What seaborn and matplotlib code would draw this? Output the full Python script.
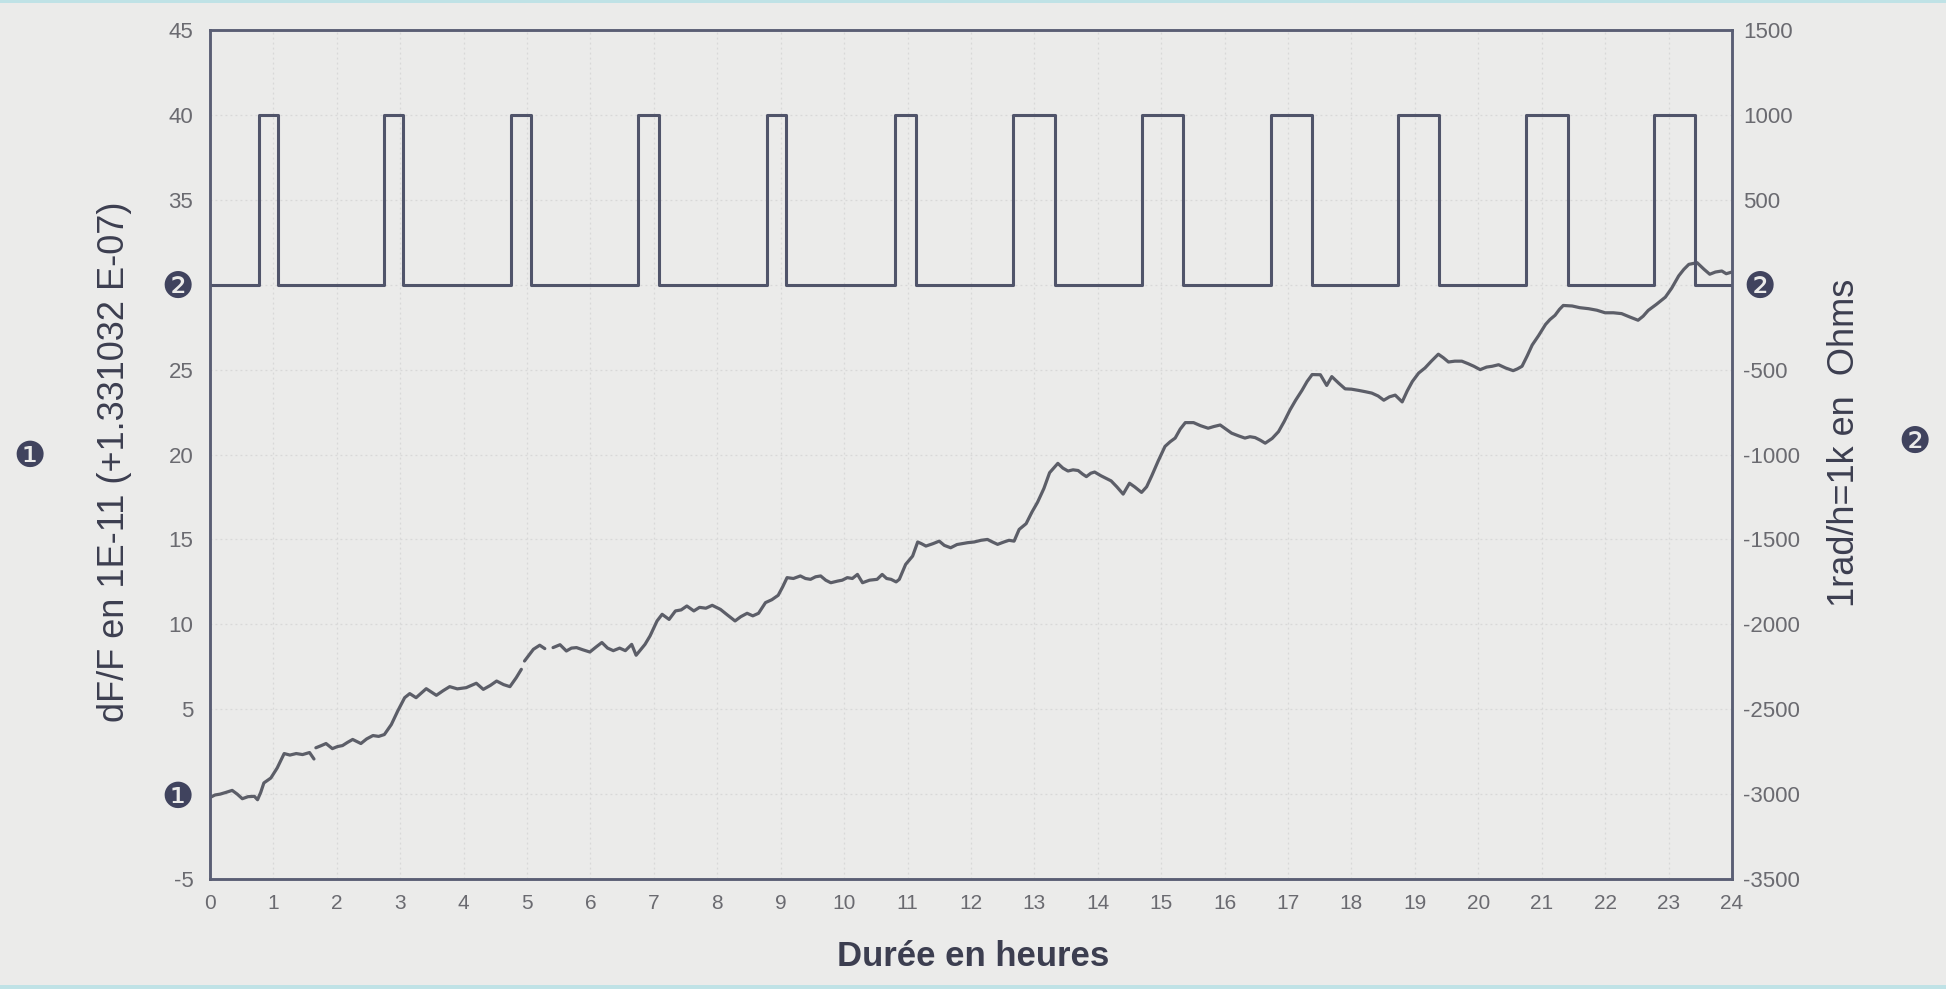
import numpy as np
import pandas as pd
import matplotlib
matplotlib.use("Agg")
import matplotlib.pyplot as plt
from matplotlib.patches import Rectangle
import seaborn as sns

# --- dF/F trace (left axis, units of 1E-11) ---
dff_hours = [
    0.00, 0.08, 0.16, 0.25, 0.35, 0.43, 0.51, 0.60, 0.70, 0.75, 0.80, 0.85, 0.96,
    1.06, 1.17, 1.26, 1.36, 1.46, 1.57, 1.64,
    1.67, 1.75, 1.83, 1.93, 2.01, 2.09, 2.17, 2.25, 2.38, 2.47, 2.57, 2.66, 2.75,
    2.86, 2.96, 3.07, 3.15, 3.25, 3.41, 3.57, 3.68, 3.78, 3.90, 4.04, 4.20, 4.31,
    4.42, 4.52, 4.63, 4.73, 4.83, 4.91,
    4.96, 5.10, 5.20, 5.28,
    5.41, 5.52, 5.62, 5.70, 5.78, 5.88, 5.99, 6.10, 6.18, 6.27, 6.36, 6.46, 6.55,
    6.65, 6.72, 6.80, 6.86, 6.94, 7.05, 7.13, 7.24, 7.34, 7.43, 7.52, 7.63, 7.72,
    7.82, 7.92, 8.05, 8.16, 8.28, 8.37, 8.47, 8.56, 8.65, 8.76, 8.86, 8.96, 9.03,
    9.10, 9.20, 9.31, 9.39, 9.47, 9.55, 9.63, 9.71, 9.79, 9.90, 9.97, 10.05, 10.13,
    10.21, 10.29, 10.40, 10.52, 10.60, 10.67, 10.74, 10.82, 10.87, 10.97, 11.08,
    11.16, 11.22, 11.29, 11.40, 11.50, 11.58, 11.68, 11.78, 11.86, 11.95, 12.05,
    12.16, 12.26, 12.34, 12.42, 12.52, 12.60, 12.68, 12.76, 12.87, 12.96, 13.05,
    13.15, 13.24, 13.37, 13.45, 13.53, 13.61, 13.69, 13.76, 13.82, 13.89, 13.95,
    14.05, 14.13, 14.21, 14.30, 14.40, 14.50, 14.58, 14.69, 14.77, 14.85, 14.95,
    15.06, 15.14, 15.22, 15.30, 15.38, 15.51, 15.62, 15.74, 15.83, 15.93, 16.02,
    16.11, 16.22, 16.32, 16.40, 16.48, 16.56, 16.64, 16.75, 16.85, 16.94, 17.03,
    17.12, 17.22, 17.30, 17.38, 17.51, 17.61, 17.69, 17.80, 17.90, 18.00, 18.11,
    18.22, 18.32, 18.42, 18.51, 18.60, 18.69, 18.80, 18.88, 18.96, 19.06, 19.16,
    19.26, 19.37, 19.45, 19.53, 19.63, 19.74, 19.84, 19.93, 20.03, 20.13, 20.22,
    20.32, 20.43, 20.55, 20.62, 20.69, 20.77, 20.85, 20.95, 21.06, 21.13, 21.21,
    21.28, 21.34, 21.48, 21.60, 21.74, 21.87, 22.00, 22.13, 22.26, 22.39, 22.52,
    22.60, 22.68, 22.81, 22.95, 23.05, 23.16, 23.24, 23.32, 23.45, 23.56, 23.65,
    23.74, 23.84, 23.91, 24.00,
]
dff_values = [
    -0.20, -0.05, 0.00, 0.10, 0.22, 0.00, -0.27, -0.15, -0.13, -0.33, 0.10, 0.66, 0.95,
    1.54, 2.39, 2.30, 2.39, 2.33, 2.45, 2.07,
    2.73, 2.85, 2.98, 2.68, 2.80, 2.86, 3.05, 3.22, 2.98, 3.25, 3.45, 3.40, 3.51,
    4.10, 4.89, 5.68, 5.92, 5.68, 6.21, 5.82, 6.10, 6.33, 6.20, 6.27, 6.53, 6.17,
    6.40, 6.66, 6.45, 6.33, 6.86, 7.35,
    7.84, 8.53, 8.77, 8.57,
    8.63, 8.80, 8.43, 8.60, 8.63, 8.50, 8.37, 8.70, 8.93, 8.60, 8.45, 8.60, 8.45,
    8.82, 8.18, 8.55, 8.82, 9.32, 10.20, 10.59, 10.29, 10.79, 10.85, 11.08, 10.79, 11.00,
    10.95, 11.12, 10.88, 10.55, 10.20, 10.45, 10.65, 10.50, 10.65, 11.28, 11.45, 11.71, 12.20,
    12.75, 12.70, 12.85, 12.70, 12.65, 12.80, 12.85, 12.60, 12.45, 12.55, 12.60, 12.75, 12.70,
    12.94, 12.45, 12.60, 12.65, 12.94, 12.70, 12.65, 12.50, 12.65, 13.53, 14.02,
    14.85, 14.75, 14.61, 14.75, 14.90, 14.65, 14.51, 14.70, 14.75, 14.81, 14.85,
    14.95, 15.00, 14.85, 14.71, 14.85, 14.95, 14.90, 15.59, 15.93, 16.60, 17.19,
    18.00, 18.93, 19.48, 19.20, 19.03, 19.10, 19.06, 18.85, 18.70, 18.90, 18.97,
    18.75, 18.60, 18.45, 18.10, 17.67, 18.31, 18.10, 17.77, 18.10, 18.74, 19.60,
    20.48, 20.75, 20.97, 21.50, 21.88, 21.88, 21.70, 21.55, 21.65, 21.74, 21.50,
    21.26, 21.10, 20.97, 21.05, 21.00, 20.85, 20.67, 20.95, 21.35, 21.95, 22.62,
    23.20, 23.78, 24.30, 24.71, 24.70, 24.07, 24.59, 24.20, 23.87, 23.85, 23.78,
    23.70, 23.62, 23.45, 23.20, 23.40, 23.50, 23.10, 23.75, 24.30, 24.80, 25.10,
    25.50, 25.91, 25.70, 25.45, 25.50, 25.50, 25.35, 25.20, 25.00, 25.15, 25.20,
    25.29, 25.10, 24.94, 25.05, 25.20, 25.80, 26.45, 27.00, 27.66, 27.95, 28.20,
    28.55, 28.78, 28.75, 28.65, 28.59, 28.50, 28.35, 28.35, 28.30, 28.10, 27.91,
    28.15, 28.49, 28.85, 29.27, 29.80, 30.52, 30.90, 31.20, 31.30, 30.91, 30.62,
    30.75, 30.81, 30.65, 30.75,
]
# short dropouts in the recorded trace (hours)
dff_gaps = [1.655, 4.935, 5.345]

# --- reference resistance pulses (right axis, Ohms) ---
pulse_on = [0.77, 2.75, 4.74, 6.75, 8.79, 10.81, 12.67, 14.69, 16.73, 18.74, 20.76, 22.77]
pulse_off = [1.07, 3.05, 5.06, 7.08, 9.09, 11.13, 13.33, 15.35, 17.38, 19.38, 21.41, 23.42]
pulse_level = 1000
rest_level = 0

x_ticks = list(range(0, 25))
left_ticks = list(range(-5, 50, 5))
left_labels = ["-5", "\u2776", "5", "10", "15", "20", "25", "\u2777", "35", "40", "45"]
right_ticks = list(range(-3500, 2000, 500))
right_labels = ["-3500", "-3000", "-2500", "-2000", "-1500", "-1000", "-500",
                "\u2777", "500", "1000", "1500"]

# ---------------------------------------------------------------------------
trace = pd.DataFrame({"hour": dff_hours, "dff": dff_values})
trace["piece"] = np.searchsorted(dff_gaps, trace["hour"])

wave_x, wave_y = [0.0], [rest_level]
for t_on, t_off in zip(pulse_on, pulse_off):
    wave_x += [t_on, t_on, t_off, t_off]
    wave_y += [rest_level, pulse_level, pulse_level, rest_level]
wave_x.append(24.0)
wave_y.append(rest_level)
wave = pd.DataFrame({"hour": wave_x, "ohm": wave_y})

sns.set_theme(style="white")
plt.rcParams["font.family"] = ["Liberation Sans Narrow", "Liberation Sans", "DejaVu Sans"]

BG = "#ebebea"
SPINE = "#5a5e74"
TICK = "#6a6a70"
LABEL = "#3c3e50"
BADGE = "#40435e"

fig = plt.figure(figsize=(19.46, 9.89), dpi=100, facecolor=BG)
ax = fig.add_axes([0.1079, 0.1112, 0.7821, 0.8584], facecolor=BG)
ax2 = ax.twinx()

ax.grid(True, color="#d8d8d8", linestyle=(0, (1.5, 2.5)), linewidth=0.9)
ax.set_axisbelow(True)

sns.lineplot(data=trace, x="hour", y="dff", units="piece", estimator=None,
             sort=False, ax=ax, color="#5c5e68", linewidth=2.3, legend=False)
sns.lineplot(data=wave, x="hour", y="ohm", estimator=None, sort=False,
             ax=ax2, color="#50546a", linewidth=2.2, legend=False)

ax.set_xlim(0, 24)
ax.set_ylim(-5, 45)
ax2.set_ylim(-3500, 1500)

ax.set_xticks(x_ticks)
ax.set_xticklabels([str(t) for t in x_ticks])
ax.set_yticks(left_ticks)
ax.set_yticklabels(left_labels)
ax2.set_yticks(right_ticks)
ax2.set_yticklabels(right_labels)

ax.tick_params(axis="x", length=0, pad=11, labelsize=15, labelcolor=TICK)
ax.tick_params(axis="y", length=0, pad=12, labelsize=16, labelcolor=TICK)
ax2.tick_params(axis="y", length=0, pad=8, labelsize=16, labelcolor=TICK)

for lab in ax.get_yticklabels() + ax2.get_yticklabels():
    if lab.get_text() in ("\u2776", "\u2777"):
        lab.set_fontfamily("DejaVu Sans")
        lab.set_fontsize(26)
        lab.set_color(BADGE)

ax.set_xlabel("")
ax.set_ylabel("")
ax2.set_ylabel("")

for a in (ax, ax2):
    for side in a.spines.values():
        side.set_color(SPINE)
        side.set_linewidth(1.8)

fig.text(973 / 1946, 1 - 956 / 989, "Durée en heures", ha="center", va="center",
         fontsize=25, fontweight="bold", color=LABEL)
fig.text(114 / 1946, 1 - 462 / 989, "dF/F en 1E-11 (+1.331032 E-07)", ha="center",
         va="center", rotation=90, fontsize=26, color=LABEL)
fig.text(1844 / 1946, 1 - 443 / 989, "1rad/h=1k en  Ohms", ha="center", va="center",
         rotation=90, fontsize=26, color=LABEL)
fig.text(30 / 1946, 1 - 457 / 989, "\u2776", ha="center", va="center",
         fontsize=26, color=BADGE, family="DejaVu Sans")
fig.text(1915 / 1946, 1 - 443 / 989, "\u2777", ha="center", va="center",
         fontsize=26, color=BADGE, family="DejaVu Sans")

# thin coloured strips along the page edges
fig.patches.append(Rectangle((0, 0), 1, 4 / 989, transform=fig.transFigure,
                             facecolor="#bfe2e6", edgecolor="none", zorder=0))
fig.patches.append(Rectangle((0, 1 - 3 / 989), 1, 3 / 989, transform=fig.transFigure,
                             facecolor="#bfe2e6", edgecolor="none", zorder=0))

fig.savefig("out.png", dpi=100, facecolor=BG)
